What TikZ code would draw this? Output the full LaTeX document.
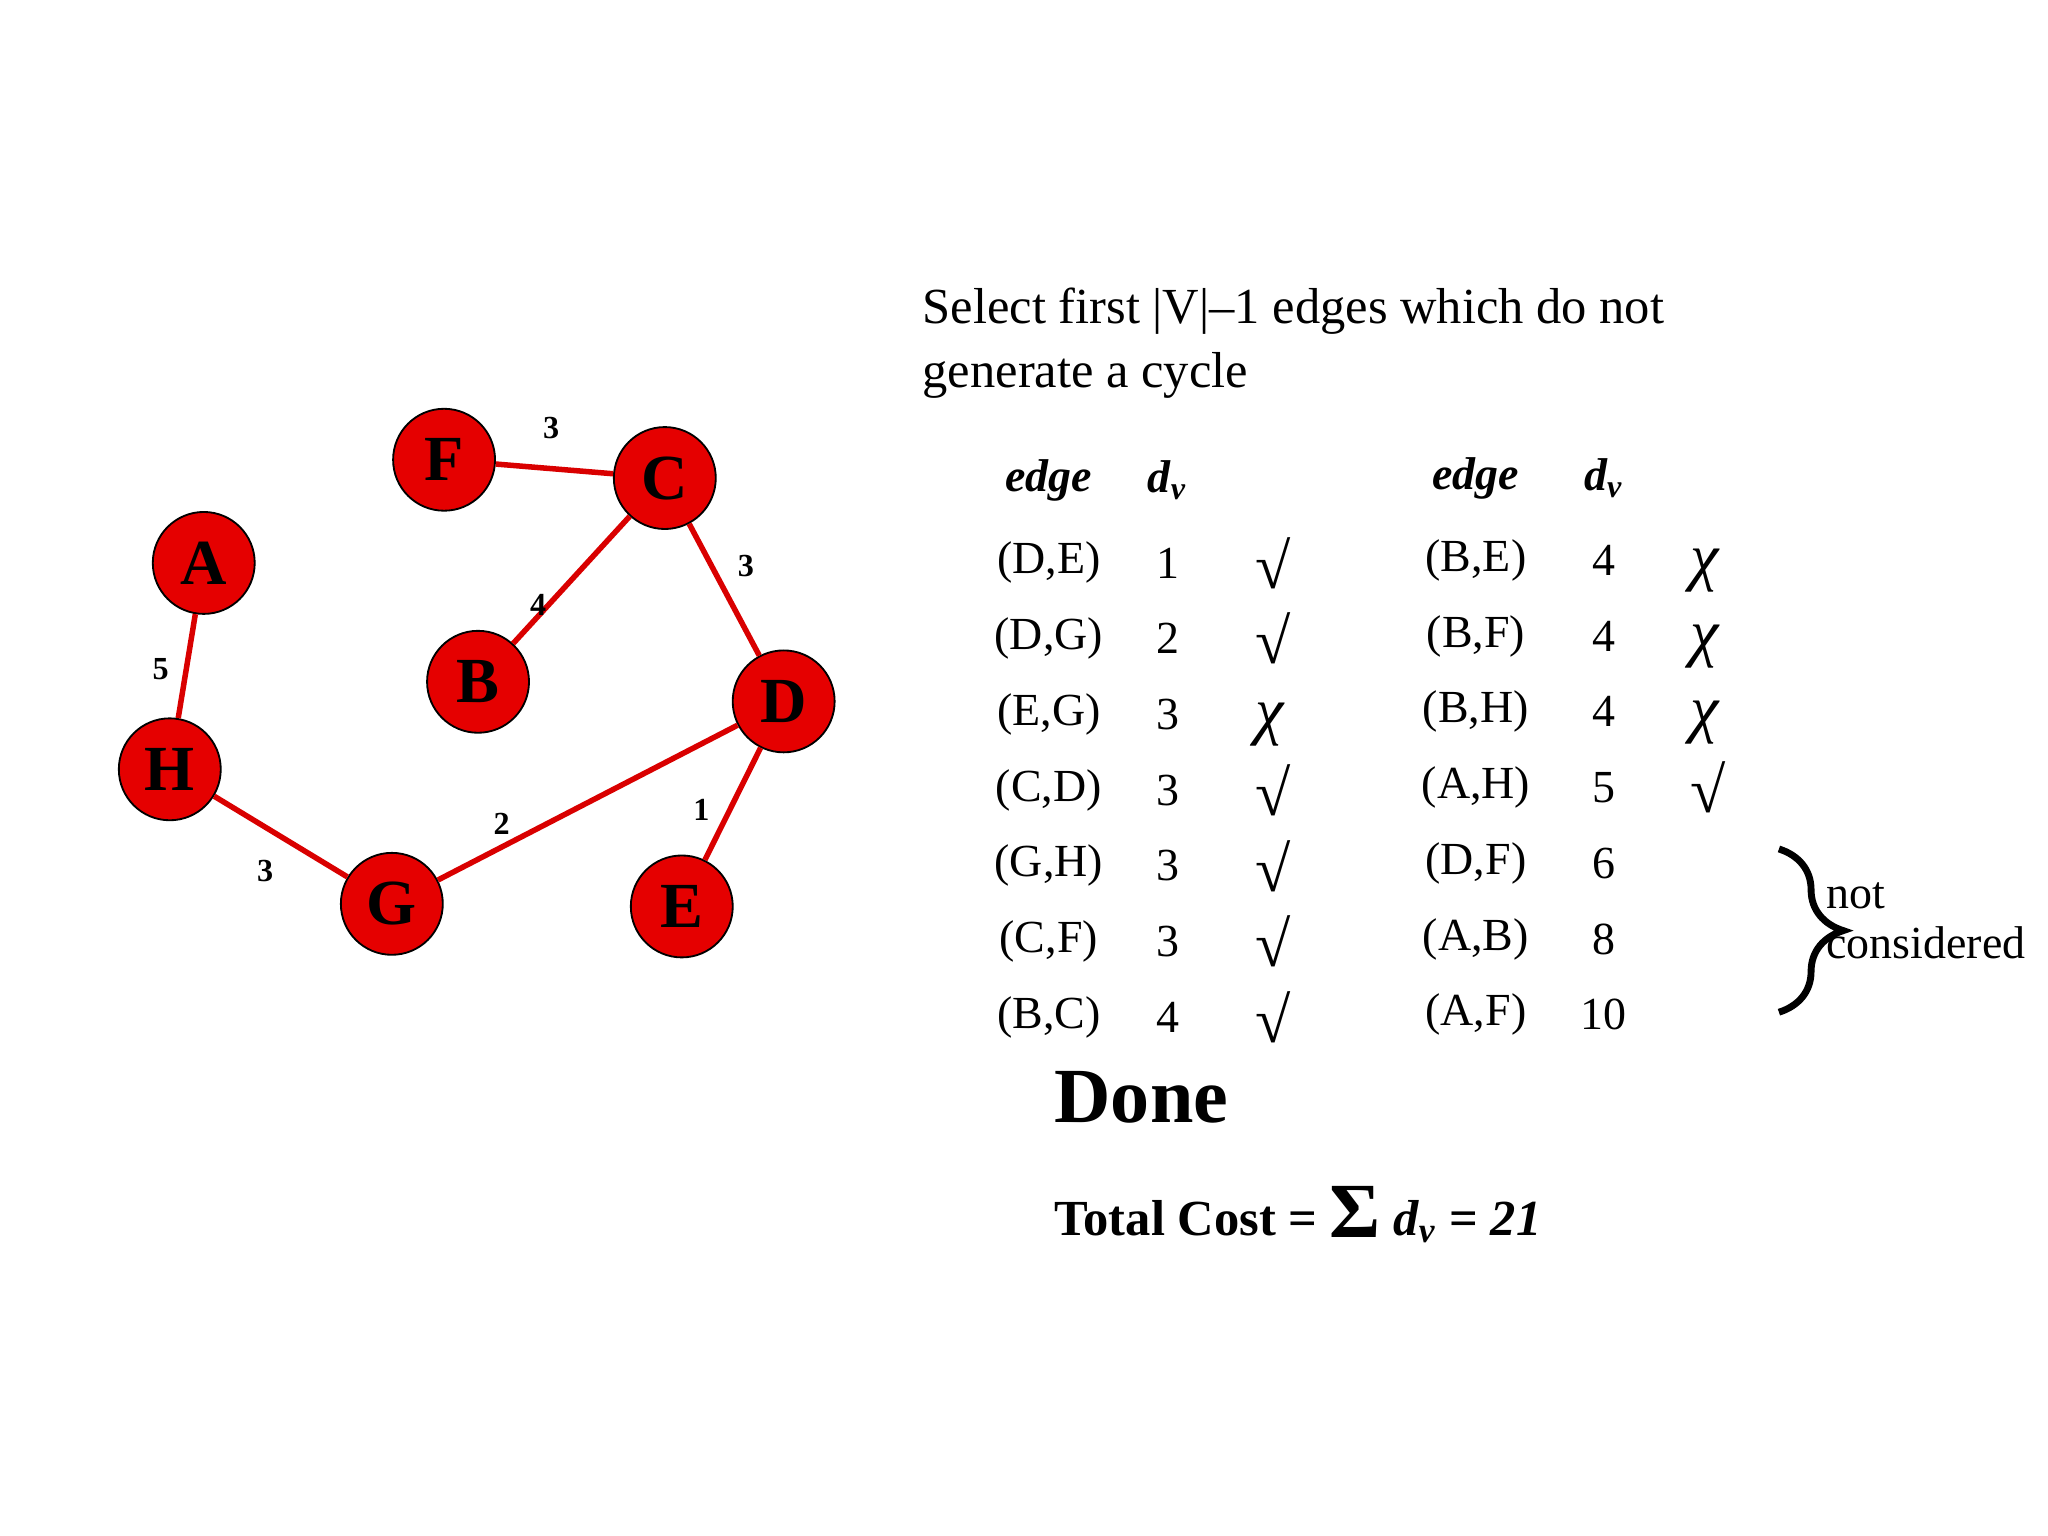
\documentclass[tikz,border=0pt]{standalone}
\usepackage{fontspec}
\setmainfont{Liberation Serif}
\usetikzlibrary{decorations.pathreplacing}
\begin{document}
\begin{tikzpicture}[x=0.01cm,y=-0.01cm,
  vtx/.style={circle,draw=black,fill=red!90!black,minimum size=0.78cm,inner sep=0pt,font=\fontsize{14}{14}\selectfont\bfseries},
  edg/.style={red!85!black,line width=1.2pt},
  wl/.style={font=\fontsize{7}{7}\selectfont\bfseries},
  cell/.style={font=\fontsize{10}{12}\selectfont},
  hd/.style={font=\fontsize{10}{12}\selectfont\bfseries\itshape}]
\useasboundingbox (0,0) rectangle (1568,1176);
\node[vtx] (F) at (340,352) {F};
\node[vtx] (C) at (509,366) {C};
\node[vtx] (A) at (156,431) {A};
\node[vtx] (B) at (366,522) {B};
\node[vtx] (D) at (600,537) {D};
\node[vtx] (H) at (130,589) {H};
\node[vtx] (G) at (300,692) {G};
\node[vtx] (E) at (522,694) {E};
\begin{scope}[on background layer/.try]
\end{scope}
\draw[edg] (F) -- (C);
\draw[edg] (C) -- (B);
\draw[edg] (C) -- (D);
\draw[edg] (A) -- (H);
\draw[edg] (H) -- (G);
\draw[edg] (G) -- (D);
\draw[edg] (D) -- (E);
\node[wl] (w1) at (422,328) {3};
\node[wl] (w2) at (571,433) {3};
\node[wl] (w3) at (412,463) {4};
\node[wl] (w4) at (123,512) {5};
\node[wl] (w5) at (384,631) {2};
\node[wl] (w6) at (537,620) {1};
\node[wl] (w7) at (203,667) {3};
\node[anchor=north west,align=left,font=\fontsize{11}{14}\selectfont] (title) at (694,208) {Select first |V|–1 edges which do not\\generate a cycle};
\node[hd] (h1) at (803,368) {edge};
\node[hd] (h2) at (894,368) {d\textsubscript{v}};
\node[hd] (h3) at (1130,366) {edge};
\node[hd] (h4) at (1228,366) {d\textsubscript{v}};
\foreach \e/\d/\m [count=\i] in {(D{,}E)/1/y,(D{,}G)/2/y,(E{,}G)/3/n,(C{,}D)/3/y,(G{,}H)/3/y,(C{,}F)/3/y,(B{,}C)/4/y}{
  \pgfmathsetmacro\yy{431+58*(\i-1)}
  \node[cell] (l\i) at (803,\yy) {\e};
  \node[cell] (ld\i) at (894,\yy) {\d};
  \if\m y\node[cell] (lm\i) at (975,\yy) {\fontsize{14}{14}\selectfont √};\else\node[cell] (lm\i) at (972,\yy+8) {\fontsize{14}{14}\selectfont\itshape χ};\fi
}
\foreach \e/\d/\m [count=\i] in {(B{,}E)/4/n,(B{,}F)/4/n,(B{,}H)/4/n,(A{,}H)/5/y,(D{,}F)/6/z,(A{,}B)/8/z,(A{,}F)/10/z}{
  \pgfmathsetmacro\yy{429+58*(\i-1)}
  \node[cell] (r\i) at (1130,\yy) {\e};
  \node[cell] (rd\i) at (1228,\yy) {\d};
  \if\m y\node[cell] (rm\i) at (1308,\yy) {\fontsize{14}{14}\selectfont √};\fi
  \if\m n\node[cell] (rm\i) at (1305,\yy+8) {\fontsize{14}{14}\selectfont\itshape χ};\fi
}
\draw[line width=1.5pt,decorate,decoration={brace,amplitude=14pt}] (1362,650) -- (1362,775);
\node[anchor=west,cell,font=\fontsize{10}{12}\selectfont] (nc1) at (1386,686) {not};
\node[anchor=west,cell,font=\fontsize{10}{12}\selectfont] (nc2) at (1386,722) {considered};
\node[anchor=west,font=\fontsize{17}{20}\selectfont\bfseries] (done) at (795,840) {Done};
\node[anchor=west,font=\fontsize{11}{14}\selectfont\bfseries] (tc) at (795,930) {Total Cost = \raisebox{-0.5pt}{\fontsize{17}{17}\selectfont Σ} \textit{d\textsubscript{v}} = \textit{21}};
\end{tikzpicture}
\end{document}
